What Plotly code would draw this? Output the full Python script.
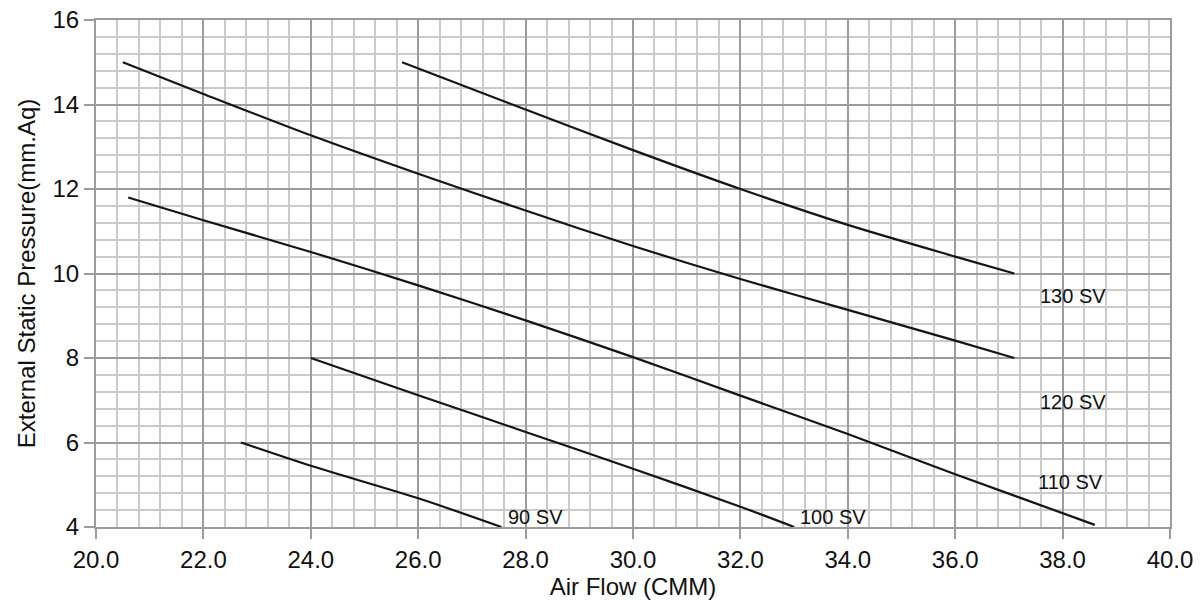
import plotly.graph_objects as go

# Fan curves (Air Flow CMM vs External Static Pressure mm.Aq)
x_130 = [25.7, 28.0, 30.0, 32.0, 34.0, 36.0, 37.1]
y_130 = [15.0, 13.88, 12.92, 12.0, 11.15, 10.4, 10.0]

x_120 = [20.5, 22.0, 24.0, 26.0, 28.0, 30.0, 32.0, 34.0, 36.0, 37.1]
y_120 = [15.0, 14.25, 13.27, 12.36, 11.49, 10.65, 9.87, 9.14, 8.41, 8.0]

x_110 = [20.6, 22.0, 24.0, 26.0, 28.0, 30.0, 32.0, 34.0, 36.0, 38.6]
y_110 = [11.8, 11.26, 10.51, 9.72, 8.89, 8.02, 7.11, 6.2, 5.25, 4.05]

x_100 = [24.0, 26.0, 28.0, 30.0, 32.0, 33.0]
y_100 = [8.0, 7.12, 6.25, 5.38, 4.48, 4.0]

x_90 = [22.7, 24.0, 26.0, 27.55]
y_90 = [6.0, 5.45, 4.68, 4.0]

series = [("130 SV", x_130, y_130), ("120 SV", x_120, y_120), ("110 SV", x_110, y_110),
          ("100 SV", x_100, y_100), ("90 SV", x_90, y_90)]

label_names = ["130 SV", "120 SV", "110 SV", "100 SV", "90 SV"]
label_x = [37.54, 37.54, 37.50, 33.08, 27.64]
label_y = [9.47, 6.96, 5.07, 4.24, 4.24]

x_ticks = [20, 22, 24, 26, 28, 30, 32, 34, 36, 38, 40]
y_ticks = [4, 6, 8, 10, 12, 14, 16]

FONT = "Liberation Sans, Arial, Helvetica, sans-serif"
MAJOR = "#9c9c9c"
MINOR = "#cacaca"
TXT = "#111111"

fig = go.Figure()
for name, xs, ys in series:
    fig.add_trace(go.Scatter(x=xs, y=ys, mode="lines", name=name,
                             line=dict(color="#151515", width=2.2, shape="spline", smoothing=0.8),
                             showlegend=False, hoverinfo="x+y+name"))

for t, xx, yy in zip(label_names, label_x, label_y):
    fig.add_annotation(x=xx, y=yy, text=t, showarrow=False, xanchor="left", yanchor="middle",
                       font=dict(family=FONT, size=20, color=TXT))

axis_common = dict(showline=True, linecolor=MAJOR, linewidth=2, mirror=True,
                   showgrid=True, gridcolor=MAJOR, gridwidth=2,
                   ticks="outside", ticklen=10, tickwidth=2, tickcolor=MAJOR,
                   tickfont=dict(family=FONT, size=24, color=TXT),
                   zeroline=False, automargin=False)

fig.update_xaxes(range=[20, 40], tickvals=x_ticks, tickformat=".1f",
                 minor=dict(dtick=0.4, tick0=20, showgrid=True, gridcolor=MINOR, gridwidth=2, ticks=""),
                 title=dict(text="Air Flow (CMM)", font=dict(family=FONT, size=24, color=TXT), standoff=6),
                 **axis_common)
fig.update_yaxes(range=[4, 16], tickvals=y_ticks,
                 minor=dict(dtick=0.4, tick0=4, showgrid=True, gridcolor=MINOR, gridwidth=2, ticks=""),
                 title=dict(text="External Static Pressure(mm.Aq)", font=dict(family=FONT, size=24, color=TXT), standoff=10),
                 **axis_common)

fig.update_layout(width=1203, height=603, margin=dict(l=96, r=33, t=20, b=76),
                  plot_bgcolor="white", paper_bgcolor="white")

# remove the browser's default 8px body margin so the figure fills the window exactly
fig.write_html("out.html", config={"displayModeBar": False},
               post_script="document.body.style.margin='0';document.body.style.overflow='hidden';")
